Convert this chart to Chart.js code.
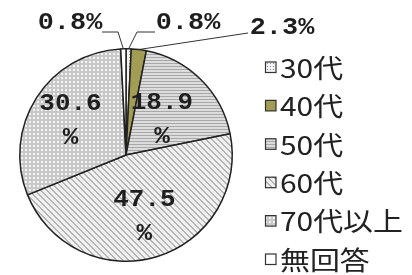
<!DOCTYPE html>
<html>
<head>
<meta charset="utf-8">
<script src="https://cdn.jsdelivr.net/npm/chart.js@4.4.0/dist/chart.umd.min.js"></script>
<style>
  body { margin: 0; background: #fff; }
  #wrap { width: 412px; height: 275px; position: relative; }
</style>
</head>
<body>
<div id="wrap"><canvas id="myChart"></canvas></div>
<script>
const labels = ["30代", "40代", "50代", "60代", "70代以上", "無回答"];
const values = [0.8, 2.3, 18.9, 47.5, 30.6, 0.8];
const valueTexts = ["0.8%", "2.3%", "18.9", "47.5", "30.6", "0.8%"];

// small canvas patterns that mimic the hatched fills
function makePattern(size, bg, draw) {
  const c = document.createElement("canvas");
  c.width = size;
  c.height = size;
  const g = c.getContext("2d");
  g.fillStyle = bg;
  g.fillRect(0, 0, size, size);
  g.fillStyle = "#8c8c8c";
  draw(g);
  return g.createPattern(c, "repeat");
}

const fills = [
  makePattern(3, "#f4f2f6", (g) => { g.fillRect(0, 0, 1, 1); }),
  "#a39c55",
  makePattern(3, "#dcdcdc", (g) => { g.fillStyle = "#a8a8a8"; g.fillRect(0, 0, 3, 1); }),
  makePattern(6, "#f0f0f0", (g) => {
    g.fillStyle = "#b4b4b4";
    for (let i = 0; i < 6; i++) { g.fillRect(i, i, 1, 1); g.fillRect((i + 1) % 6, i, 1, 1); }
  }),
  makePattern(4, "#c8c8c8", (g) => {
    g.fillStyle = "#f4f4f4";
    g.fillRect(1, 1, 2, 2);
  }),
  "#ffffff",
];

// text drawn a little wider than the font's natural width
function wideText(ctx, text, x, y, sx) {
  ctx.save();
  ctx.translate(x, y);
  ctx.scale(sx, 1);
  ctx.fillText(text, 0, 0);
  ctx.restore();
}

const labelPlugin = {
  id: "pieLabels",
  afterDatasetsDraw(chart) {
    const ctx = chart.ctx;
    const arcs = chart.getDatasetMeta(0).data;
    ctx.save();
    ctx.fillStyle = "#1e1e1e";
    ctx.font = "bold 24px 'Liberation Mono', 'DejaVu Sans Mono', monospace";
    ctx.textAlign = "center";
    ctx.textBaseline = "middle";

    // inside labels (value on one line, % below)
    const inside = { 2: 0.48, 3: 0.6, 4: 0.62 };
    Object.keys(inside).forEach((k) => {
      const a = arcs[k];
      const mid = (a.startAngle + a.endAngle) / 2;
      const r = a.outerRadius * inside[k];
      const x = a.x + Math.cos(mid) * r;
      const y = a.y + Math.sin(mid) * r;
      wideText(ctx, valueTexts[k], x, y - 16, 1.08);
      wideText(ctx, "%", x, y + 18, 1.08);
    });

    // outside labels with leader lines
    ctx.strokeStyle = "#333";
    ctx.lineWidth = 1;
    const outside = [
      { i: 5, tx: 70, ty: 23, path: [[102, 32], [118, 32]] },
      { i: 0, tx: 188, ty: 23, path: [[155, 32], [137, 32]] },
      { i: 1, tx: 282, ty: 28, path: [[248, 33]] },
    ];
    outside.forEach((o) => {
      const a = arcs[o.i];
      const mid = (a.startAngle + a.endAngle) / 2;
      const ax = a.x + Math.cos(mid) * a.outerRadius;
      const ay = a.y + Math.sin(mid) * a.outerRadius;
      wideText(ctx, valueTexts[o.i], o.tx, o.ty, 1.12);
      ctx.beginPath();
      ctx.moveTo(o.path[0][0], o.path[0][1]);
      o.path.slice(1).forEach((p) => ctx.lineTo(p[0], p[1]));
      ctx.lineTo(ax, ay);
      ctx.stroke();
    });
    ctx.restore();
  },
};

const legendPlugin = {
  id: "sideLegend",
  afterDraw(chart) {
    const ctx = chart.ctx;
    ctx.save();
    ctx.font = "26px 'Noto Sans CJK JP', sans-serif";
    ctx.textBaseline = "middle";
    ctx.textAlign = "left";
    labels.forEach((name, i) => {
      const y = 67 + i * 38.4;
      ctx.fillStyle = fills[i];
      ctx.fillRect(265, y - 5.5, 11, 11);
      ctx.strokeStyle = "#333";
      ctx.lineWidth = 1.2;
      ctx.strokeRect(265.5, y - 5, 10.5, 10.5);
      ctx.fillStyle = "#222";
      wideText(ctx, name, 280, y + 1, 1.15);
    });
    ctx.restore();
  },
};

const ctx = document.querySelector("#myChart").getContext("2d");
new Chart(ctx, {
  type: "pie",
  data: {
    labels: labels,
    datasets: [{
      data: values,
      backgroundColor: fills,
      borderColor: "#222",
      borderWidth: 1.5,
    }],
  },
  options: {
    responsive: true,
    maintainAspectRatio: false,
    animation: false,
    layout: { padding: { left: 19, top: 48, bottom: 13, right: 179 } },
    plugins: {
      legend: { display: false },
      tooltip: { enabled: false },
    },
  },
  plugins: [labelPlugin, legendPlugin],
});
</script>
</body>
</html>
